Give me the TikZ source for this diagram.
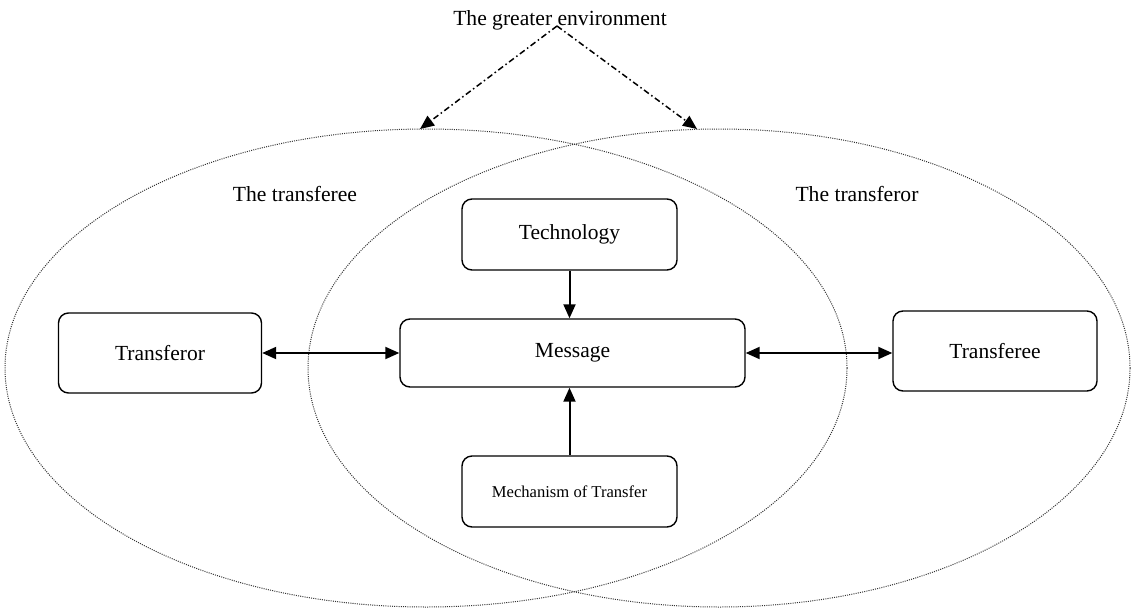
\documentclass[tikz,border=0pt]{standalone}
\usepackage{fontspec}
\setmainfont{Liberation Serif}
\usetikzlibrary{arrows.meta,shapes.geometric}
\begin{document}
\begin{tikzpicture}[x=1pt,y=-1pt,
  box/.style={draw, line width=1.4pt, rounded corners=10pt, inner sep=0pt, font=\fontsize{21.5}{24}\selectfont},
  env/.style={draw=black!80, line width=1pt, dash pattern=on 1pt off 1.2pt, ellipse, inner sep=0pt},
  lbl/.style={inner sep=0pt, font=\fontsize{21.6}{24}\selectfont},
  biarrow/.style={line width=2pt, {Triangle[length=14pt,width=12pt]}-{Triangle[length=14pt,width=12pt]}},
  uniarrow/.style={line width=2pt, -{Triangle[length=14pt,width=12pt]}},
  dasharrow/.style={line width=1.5pt, dash pattern=on 6pt off 3pt on 1.5pt off 3pt, -{Triangle[length=14pt,width=12pt]}}
]
\useasboundingbox (0,0) rectangle (1135,608);
% ellipses
\node[env, minimum width=842pt, minimum height=478pt] (Lell) at (426,368) {};
\node[env, minimum width=822pt, minimum height=478pt] (Rell) at (719,368) {};
% labels
\node[lbl] (env) at (560,20) {The greater environment};
\node[lbl] (tee) at (295,194) {The transferee};
\node[lbl] (tor) at (857,194) {The transferor};
% boxes
\node[box, minimum width=215pt, minimum height=71pt] (tech) at (569.5,234.5) {Technology};
\node[box, minimum width=345pt, minimum height=68pt] (msg) at (572.5,353) {Message};
\node[box, minimum width=203pt, minimum height=80pt] (tfor) at (160,353) {Transferor};
\node[box, minimum width=204pt, minimum height=80pt] (tfee) at (995,351) {Transferee};
\node[box, minimum width=215pt, minimum height=71pt, font=\fontsize{16.6}{20}\selectfont] (mech) at (569.5,491.5) {Mechanism of Transfer};
% connectors
\draw[biarrow] (tfor.east) -- (msg.west);
\draw[biarrow] (msg.east) -- (tfee.west |- msg.east);
\draw[uniarrow] (tech.south) -- (tech.south |- msg.north);
\draw[uniarrow] (mech.north) -- (mech.north |- msg.south);
\coordinate (s) at (557,26);
\coordinate (lt) at (420,129);
\coordinate (rt) at (697,129);
\draw[dasharrow] (s) -- (lt);
\draw[dasharrow] (s) -- (rt);
\end{tikzpicture}
\end{document}
